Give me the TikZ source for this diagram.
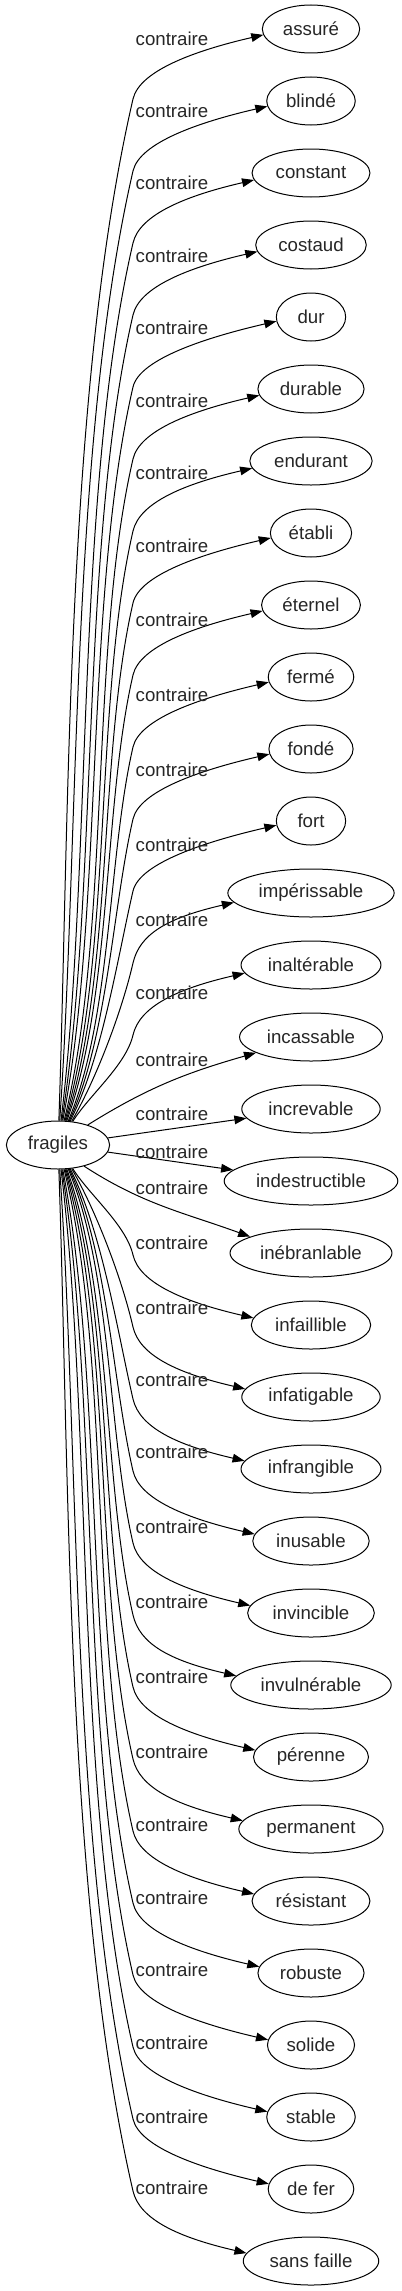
\documentclass[tikz,border=0pt]{standalone}
\usepackage{fontspec}
\setmainfont{Liberation Sans}
\usetikzlibrary{arrows.meta,calc,shapes.geometric}
\tikzset{
  ant/.style={draw,ellipse,line width=0.75pt,inner xsep=4.8pt,inner ysep=0pt,
      minimum height=36pt,minimum width=52pt,
      font=\fontsize{14}{16}\selectfont,text=black!85},
  lab/.style={inner sep=0pt,font=\fontsize{14}{16}\selectfont,text=black!85},
  opp/.style={-{Triangle[length=9pt,width=6.5pt]},line width=0.75pt},
}
\newcommand{\ant}[3]{\node[ant] (#1) at (311,-#2) {#3};}
\newcommand{\upedge}[3]{%
  \draw[opp] (fr.#2) to[out=#2,in=257,looseness=0.75] ($(#1)+(-178,-70)$)
    to[out=77,in=193,out distance=22pt,in distance=52pt] (#1.187);
  \node[lab] (l#1) at (172,-#3) {contraire};}
\newcommand{\downedge}[3]{%
  \draw[opp] (fr.#2) to[out=#2,in=103,looseness=0.75] ($(#1)+(-178,70)$)
    to[out=-77,in=167,out distance=22pt,in distance=52pt] (#1.173);
  \node[lab] (l#1) at (172,-#3) {contraire};}
\begin{document}
\begin{tikzpicture}[x=0.75pt,y=0.75pt]
  \useasboundingbox (0,0) rectangle (401,-2291);
  \node[ant] (fr) at (58,-1145) {fragiles};

  \ant{assure}{29}{assuré}
  \ant{blinde}{101}{blindé}
  \ant{constant}{173}{constant}
  \ant{costaud}{245}{costaud}
  \ant{dur}{317}{dur}
  \ant{durable}{389}{durable}
  \ant{endurant}{461}{endurant}
  \ant{etabli}{533}{établi}
  \ant{eternel}{605}{éternel}
  \ant{ferme}{677}{fermé}
  \ant{fonde}{749}{fondé}
  \ant{fort}{821}{fort}
  \ant{imperissable}{893}{impérissable}
  \ant{inalterable}{965}{inaltérable}
  \ant{incassable}{1037}{incassable}
  \ant{increvable}{1109}{increvable}
  \ant{indestructible}{1181}{indestructible}
  \ant{inebranlable}{1253}{inébranlable}
  \ant{infaillible}{1325}{infaillible}
  \ant{infatigable}{1397}{infatigable}
  \ant{infrangible}{1469}{infrangible}
  \ant{inusable}{1541}{inusable}
  \ant{invincible}{1613}{invincible}
  \ant{invulnerable}{1685}{invulnérable}
  \ant{perenne}{1757}{pérenne}
  \ant{permanent}{1829}{permanent}
  \ant{resistant}{1901}{résistant}
  \ant{robuste}{1973}{robuste}
  \ant{solide}{2045}{solide}
  \ant{stable}{2117}{stable}
  \ant{defer}{2189}{de fer}
  \ant{sansfaille}{2261}{sans faille}

  \upedge{assure}{88}{39}
  \upedge{blinde}{86}{111}
  \upedge{constant}{83}{183}
  \upedge{costaud}{81}{256}
  \upedge{dur}{79}{328}
  \upedge{durable}{76}{401}
  \upedge{endurant}{74}{473}
  \upedge{etabli}{72}{546}
  \upedge{eternel}{70}{620}
  \upedge{ferme}{67}{695}
  \upedge{fonde}{65}{770}
  \upedge{fort}{63}{845}
  \upedge{imperissable}{60}{920}
  \upedge{inalterable}{58}{993}

  \draw[opp] (fr.34) to[out=32,in=196] (incassable.196);
  \node[lab] (lincassable) at (172,-1060) {contraire};
  \draw[opp] (fr) -- (increvable);
  \node[lab] (lincrevable) at (172,-1114) {contraire};
  \draw[opp] (fr) -- (indestructible);
  \node[lab] (lindestructible) at (172,-1152) {contraire};
  \draw[opp] (fr.-39) to[out=-33,in=160] (inebranlable.165);
  \node[lab] (linebranlable) at (172,-1188) {contraire};

  \downedge{infaillible}{-58}{1243}
  \downedge{infatigable}{-60}{1308}
  \downedge{infrangible}{-63}{1380}
  \downedge{inusable}{-65}{1452}
  \downedge{invincible}{-67}{1527}
  \downedge{invulnerable}{-70}{1602}
  \downedge{perenne}{-72}{1677}
  \downedge{permanent}{-74}{1752}
  \downedge{resistant}{-76}{1825}
  \downedge{robuste}{-79}{1898}
  \downedge{solide}{-81}{1970}
  \downedge{stable}{-83}{2043}
  \downedge{defer}{-86}{2117}
  \downedge{sansfaille}{-88}{2188}
\end{tikzpicture}
\end{document}
